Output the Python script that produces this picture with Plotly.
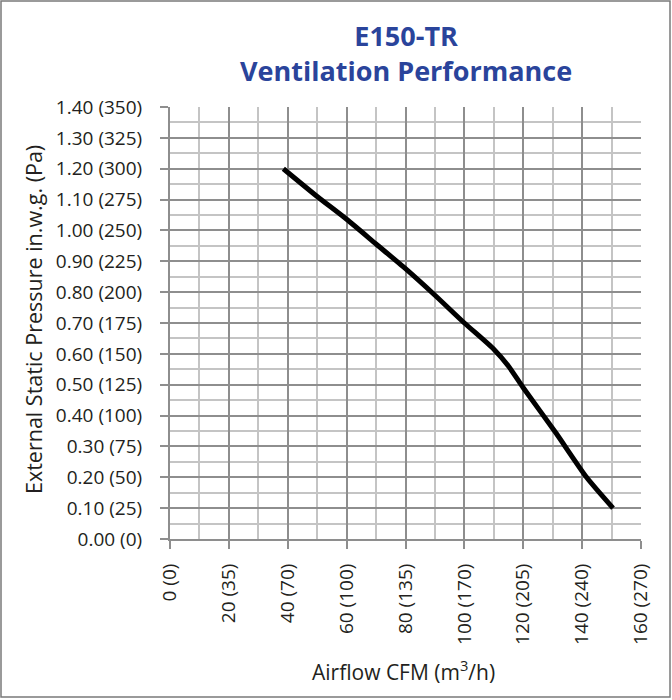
import plotly.graph_objects as go

# Data
airflow_cfm = [38.5, 50, 60, 70, 80, 90, 100, 110, 115, 120, 131, 141.5, 150.5]
pressure_inwg = [1.20, 1.11, 1.036, 0.956, 0.876, 0.79, 0.70, 0.615, 0.56, 0.49, 0.345, 0.20, 0.10]

x_tickvals = [0, 20, 40, 60, 80, 100, 120, 140, 160]
x_ticktext = ["0 (0)", "20 (35)", "40 (70)", "60 (100)", "80 (135)", "100 (170)",
              "120 (205)", "140 (240)", "160 (270)"]
y_tickvals = [0.0, 0.1, 0.2, 0.3, 0.4, 0.5, 0.6, 0.7, 0.8, 0.9, 1.0, 1.1, 1.2, 1.3, 1.4]
y_ticktext = ["0.00 (0)", "0.10 (25)", "0.20 (50)", "0.30 (75)", "0.40 (100)", "0.50 (125)",
              "0.60 (150)", "0.70 (175)", "0.80 (200)", "0.90 (225)", "1.00 (250)",
              "1.10 (275)", "1.20 (300)", "1.30 (325)", "1.40 (350)"]

title_text = "E150-TR<br>Ventilation Performance"
x_title = "Airflow CFM (m<sup>3</sup>/h)"
y_title = "External Static Pressure in.w.g. (Pa)"

FONT = "Open Sans"
MAJOR = "#8e8e8e"
MINOR = "#c4c4c4"
TXT = "#231f20"
BLUE = "#2a449b"

fig = go.Figure()
fig.add_trace(go.Scatter(
    x=airflow_cfm, y=pressure_inwg, mode="lines",
    line=dict(color="black", width=5, shape="spline", smoothing=0.6),
    showlegend=False, hoverinfo="skip"))

W, H = 672, 700
ml, mr, mt, mb = 170, 31, 107, 161
pw, ph = W - ml - mr, H - mt - mb


def px_x(p):
    return (p - ml) / pw


def px_y(p):
    return (H - mb - p) / ph


fig.update_layout(
    width=W, height=H,
    margin=dict(l=ml, r=mr, t=mt, b=mb, pad=0),
    paper_bgcolor="white", plot_bgcolor="white",
    font=dict(family=FONT, size=19, color=TXT),
    xaxis=dict(
        range=[0, 160], tickmode="array", tickvals=x_tickvals, ticktext=x_ticktext,
        tickangle=-90, ticks="outside", ticklen=8, tickwidth=2, tickcolor=MAJOR,
        showgrid=True, gridcolor=MAJOR, gridwidth=2,
        showline=True, linecolor=MAJOR, linewidth=2,
        zeroline=False, automargin=False, ticklabelstandoff=7,
        minor=dict(tickmode="linear", tick0=0, dtick=10, showgrid=True,
                   gridcolor=MINOR, gridwidth=2, ticks=""),
        tickfont=dict(size=19, color=TXT),
    ),
    yaxis=dict(
        range=[0, 1.4], tickmode="array", tickvals=y_tickvals, ticktext=y_ticktext,
        ticks="outside", ticklen=8, tickwidth=2, tickcolor=MAJOR,
        showgrid=True, gridcolor=MAJOR, gridwidth=2,
        showline=True, linecolor=MAJOR, linewidth=2,
        zeroline=False, automargin=False, ticklabelstandoff=14,
        minor=dict(tickmode="linear", tick0=0, dtick=0.05, showgrid=True,
                   gridcolor=MINOR, gridwidth=2, ticks=""),
        tickfont=dict(size=19, color=TXT),
    ),
    annotations=[
        dict(text="<b>" + title_text + "</b>", xref="paper", yref="paper",
             x=px_x(406), y=px_y(53), xanchor="center", yanchor="middle", showarrow=False,
             font=dict(family=FONT, size=27, color=BLUE)),
        dict(text=x_title, xref="paper", yref="paper",
             x=px_x(403), y=px_y(670), xanchor="center", yanchor="middle", showarrow=False,
             font=dict(family=FONT, size=21, color=TXT)),
        dict(text=y_title, xref="paper", yref="paper", textangle=-90,
             x=px_x(33), y=px_y(320), xanchor="center", yanchor="middle", showarrow=False,
             font=dict(family=FONT, size=21.5, color=TXT)),
    ],
    shapes=[dict(type="rect", xref="paper", yref="paper",
                 x0=px_x(1), x1=px_x(W - 2),
                 y0=px_y(H - 3), y1=px_y(1),
                 line=dict(color="#7a7a7a", width=1.5), layer="below")],
)

fig.write_html("out.html", config={"displayModeBar": False},
               post_script="document.body.style.margin='0';document.body.style.overflow='hidden';")
